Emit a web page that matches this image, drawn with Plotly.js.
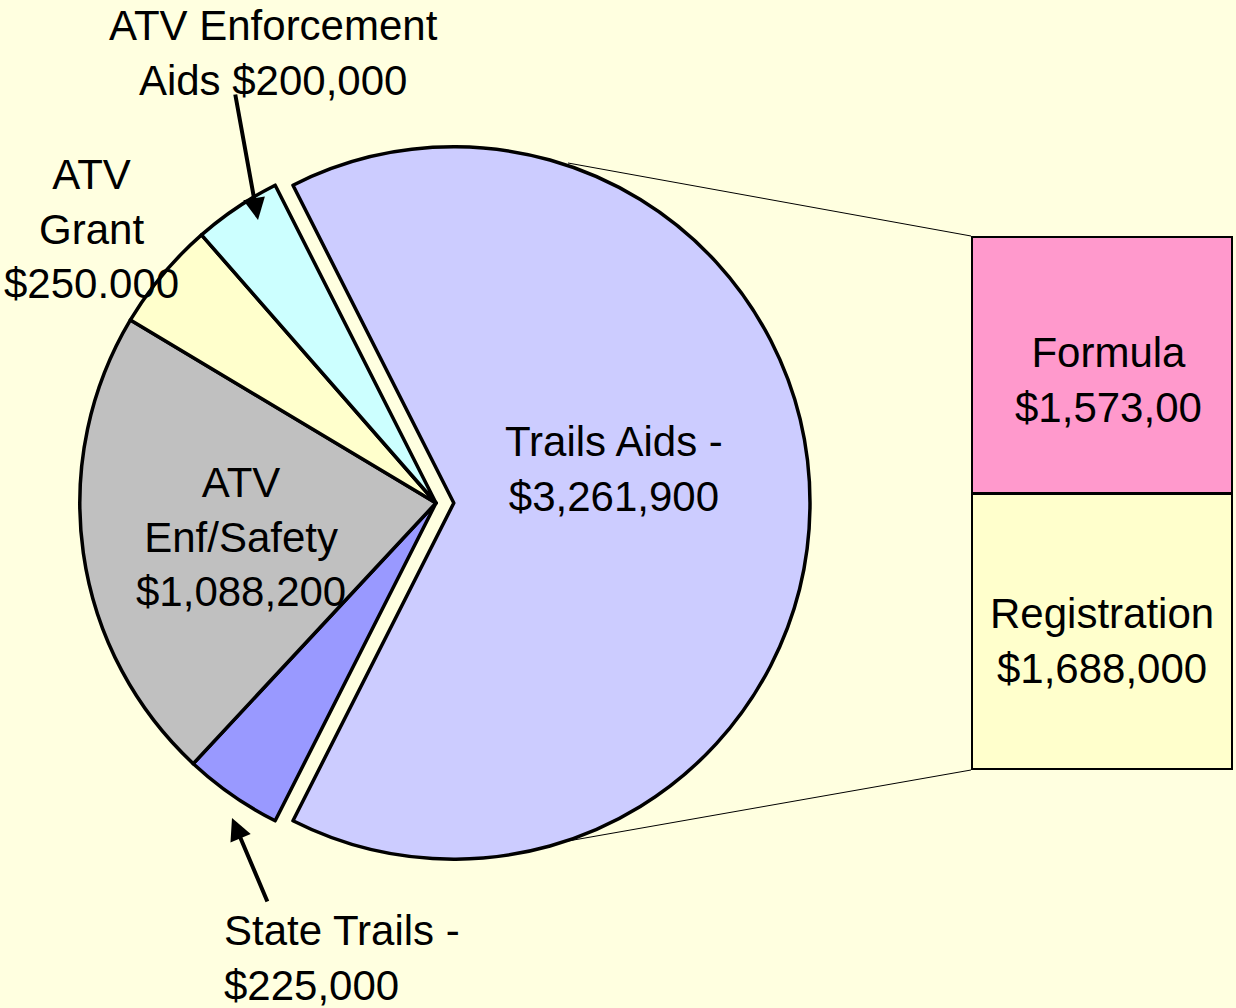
<!DOCTYPE html>
<html>
<head>
<meta charset="utf-8">
<script src="https://cdn.plot.ly/plotly-3.0.1.min.js"></script>
<style>
html,body{margin:0;padding:0;background:#FFFFE0;}
#chart{width:1236px;height:1008px;}
</style>
</head>
<body>
<div id="chart"></div>
<script>
// Pie data (clockwise from Trails Aids)
const pieLabels = ["Trails Aids", "State Trails", "ATV Enf/Safety", "ATV Grant", "ATV Enforcement Aids"];
const pieValues = [3261900, 225000, 1088200, 250000, 200000];
const pieColors = ["#CCCCFF", "#9999FF", "#C0C0C0", "#FFFFCC", "#CCFFFF"];
const piePull = [0.05, 0, 0, 0, 0];

// Breakdown bar of Trails Aids
const barLabels = ["Registration", "Formula"];
const barValues = [1688000, 1573000];
const barColors = ["#FFFFCC", "#FF99CC"];

// Label texts
const labelTexts = {
  enforcement: "ATV Enforcement<br>Aids $200,000",
  grant: "ATV<br>Grant<br>$250.000",
  safety: "ATV<br>Enf/Safety<br>$1,088,200",
  trails: "Trails Aids -<br>$3,261,900",
  state: "State Trails -<br>$225,000",
  formula: "Formula<br>$1,573,00",
  registration: "Registration<br>$1,688,000"
};

const W = 1236, H = 1008;
const px = x => x / W;
const py = y => 1 - y / H;

const totalPie = pieValues.reduce((a, b) => a + b, 0);
// center the first slice on 3 o'clock
const rot = 90 - (pieValues[0] / totalPie) * 180;

const pieTrace = {
  type: "pie",
  labels: pieLabels,
  values: pieValues,
  sort: false,
  direction: "clockwise",
  rotation: rot,
  pull: piePull,
  textinfo: "none",
  hoverinfo: "label+value",
  marker: {colors: pieColors, line: {color: "#000000", width: 3.5}},
  domain: {x: [px(62), px(810)], y: [py(906), py(100)]},
  showlegend: false
};

const barTraces = barLabels.map((name, i) => ({
  type: "bar",
  x: [0],
  y: [barValues[i]],
  name: name,
  width: 1,
  cliponaxis: false,
  marker: {color: barColors[i], line: {color: "#000000", width: 3.5}},
  xaxis: "x",
  yaxis: "y",
  showlegend: false,
  hoverinfo: "name+y"
}));

const font = {family: "Liberation Sans, Arial, sans-serif", size: 42, color: "#000000"};

function txt(text, x, y, align) {
  return {
    text: text, x: px(x), y: py(y), xref: "paper", yref: "paper",
    showarrow: false, font: font, align: align || "center",
    xanchor: align === "left" ? "left" : "center", yanchor: "middle"
  };
}
function arrow(hx, hy, tx, ty) {
  return {
    text: "", x: px(hx), y: py(hy), xref: "paper", yref: "paper",
    ax: tx - hx, ay: ty - hy, axref: "pixel", ayref: "pixel",
    showarrow: true, arrowhead: 2, arrowsize: 1.1, arrowwidth: 4, arrowcolor: "#000000",
    standoff: 0, startstandoff: 0
  };
}

const annotations = [
  txt(labelTexts.enforcement, 273, 53),
  txt(labelTexts.grant, 91, 229),
  txt(labelTexts.safety, 241, 537),
  txt(labelTexts.trails, 614, 469),
  txt(labelTexts.state, 222, 958, "left"),
  txt(labelTexts.formula, 1108, 380),
  txt(labelTexts.registration, 1102, 641),
  arrow(258, 220, 235, 93),
  arrow(232, 818, 268, 903)
];

const shapes = [
  {type: "line", xref: "paper", yref: "paper", x0: px(568), y0: py(163), x1: px(971), y1: py(236), line: {color: "#000000", width: 1}},
  {type: "line", xref: "paper", yref: "paper", x0: px(568), y0: py(841), x1: px(971), y1: py(770), line: {color: "#000000", width: 1}}
];

const layout = {
  width: W, height: H,
  margin: {l: 0, r: 0, t: 0, b: 0},
  paper_bgcolor: "#FFFFE0",
  plot_bgcolor: "rgba(0,0,0,0)",
  barmode: "stack",
  xaxis: {domain: [px(971), px(1233)], range: [-0.5, 0.5], visible: false, fixedrange: true},
  yaxis: {domain: [py(770), py(236)], range: [0, barValues[0] + barValues[1]], visible: false, fixedrange: true},
  annotations: annotations,
  shapes: shapes,
  showlegend: false
};

Plotly.newPlot("chart", [pieTrace].concat(barTraces), layout, {displayModeBar: false, staticPlot: true});
</script>
</body>
</html>
